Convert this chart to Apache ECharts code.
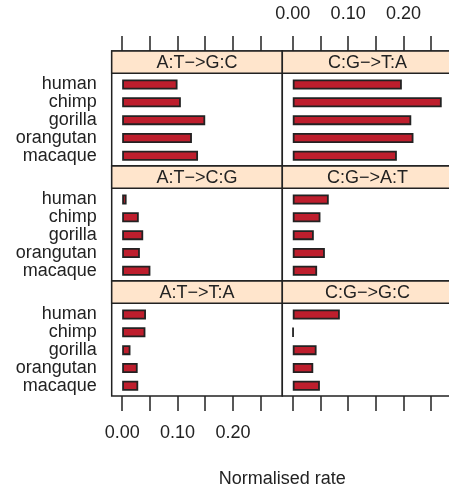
<!DOCTYPE html>
<html>
<head>
<meta charset="utf-8">
<script src="https://cdn.jsdelivr.net/npm/echarts@6/dist/echarts.min.js"></script>
<style>
html,body{margin:0;padding:0;background:#fff;}
#chart{width:449px;height:493px;}
</style>
</head>
<body>
<div id="chart"></div>
<script>
// ---- data ----
var categories = ['human', 'chimp', 'gorilla', 'orangutan', 'macaque'];
var panelTitles = ['A:T\u2212>G:C', 'C:G\u2212>T:A', 'A:T\u2212>C:G', 'C:G\u2212>A:T', 'A:T\u2212>T:A', 'C:G\u2212>G:C'];
var AT_GC = [0.100, 0.106, 0.150, 0.126, 0.137];
var CG_TA = [0.197, 0.269, 0.214, 0.218, 0.188];
var AT_CG = [0.008, 0.030, 0.038, 0.032, 0.051];
var CG_AT = [0.065, 0.050, 0.038, 0.058, 0.044];
var AT_TA = [0.043, 0.042, 0.015, 0.028, 0.029];
var CG_GC = [0.085, 0.001, 0.043, 0.037, 0.049];
var panelValues = [AT_GC, CG_TA, AT_CG, CG_AT, AT_TA, CG_GC];
var tickValues = [0, 0.05, 0.10, 0.15, 0.20, 0.25];
var labelValues = [0, 0.10, 0.20];
var axisTitle = 'Normalised rate';

// ---- layout ----
var FONT = '"Liberation Sans", Arial, Helvetica, sans-serif';
var INK = '#222222';
var colX = [111.7, 282.3];
var panelW = 170.6;
var rowTop = [51, 166, 281];
var stripH = 22.3;
var panelH = 115;
var XMIN = -0.0189, XMAX = 0.2892;

var grids = [], xAxes = [], yAxes = [], series = [], graphics = [];

panelValues.forEach(function (vals, p) {
  var r = Math.floor(p / 2), c = p % 2;
  var left = colX[c], top = rowTop[r];
  var bodyTop = top + stripH;
  var bodyH = panelH - stripH;
  var sp = bodyH / 5.2;

  // frame grid (whole panel incl. strip)
  var fg = grids.length;
  grids.push({
    left: left, top: top, width: panelW, height: panelH,
    show: true, backgroundColor: '#ffffff', borderColor: INK, borderWidth: 1.5,
    containLabel: false, outerBoundsMode: 'none'
  });
  var showAxis = (r === 0 || r === 2);
  var showLabels = (r === 0 && c === 1) || (r === 2 && c === 0);
  xAxes.push({
    type: 'value', gridIndex: fg, min: XMIN, max: XMAX,
    position: r === 0 ? 'top' : 'bottom',
    show: showAxis,
    axisLine: { show: false, onZero: false },
    splitLine: { show: false },
    axisTick: { show: true, inside: false, length: 15, customValues: tickValues,
      lineStyle: { color: INK, width: 1.5 } },
    axisLabel: { show: showLabels, customValues: labelValues, margin: 28,
      fontFamily: FONT, fontSize: 18, color: INK,
      formatter: function (v) { return v.toFixed(2); } }
  });
  yAxes.push({ type: 'value', gridIndex: fg, show: false, min: 0, max: 1,
    axisLine: { onZero: false } });

  // bar grid (body)
  var bg = grids.length;
  grids.push({
    left: left, top: bodyTop + 0.1 * sp + 0.5, width: panelW, height: 5 * sp,
    show: false, containLabel: false, outerBoundsMode: 'none'
  });
  xAxes.push({
    type: 'value', gridIndex: bg, min: XMIN, max: XMAX, show: false,
    splitLine: { show: false }, axisLine: { onZero: false }
  });
  yAxes.push({
    type: 'category', gridIndex: bg, data: categories, inverse: true,
    axisLine: { show: false, onZero: false }, axisTick: { show: false }, splitLine: { show: false },
    axisLabel: { show: c === 0, interval: 0, margin: 15, fontFamily: FONT, fontSize: 18, color: INK }
  });
  series.push({
    type: 'bar', xAxisIndex: xAxes.length - 1, yAxisIndex: yAxes.length - 1,
    data: vals, barWidth: 10, clip: false, silent: true,
    itemStyle: { color: '#BE1E2D', borderColor: INK, borderWidth: 1.8 }
  });

  // strip
  graphics.push({
    type: 'rect', shape: { x: left, y: top, width: panelW, height: stripH },
    style: { fill: '#FFE5CC', stroke: INK, lineWidth: 1.5 }, z: 10
  });
  graphics.push({
    type: 'text', x: left + panelW / 2, y: top + stripH / 2 + 0.8, z: 11,
    style: { text: panelTitles[p], fill: INK, font: '18px ' + FONT,
      textAlign: 'center', textVerticalAlign: 'middle' }
  });
});

graphics.push({
  type: 'text', x: (colX[0] + colX[1] + panelW) / 2, y: 479, z: 11,
  style: { text: axisTitle, fill: INK, font: '18px ' + FONT,
    textAlign: 'center', textVerticalAlign: 'middle' }
});

var chart = echarts.init(document.getElementById('chart'), null, { renderer: 'canvas' });
chart.setOption({
  animation: false,
  backgroundColor: '#ffffff',
  grid: grids,
  xAxis: xAxes,
  yAxis: yAxes,
  series: series,
  graphic: graphics
});
</script>
</body>
</html>
